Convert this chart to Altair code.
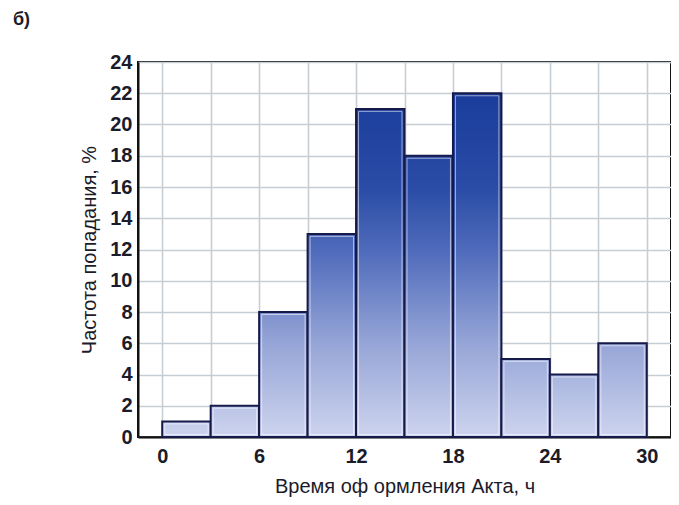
import altair as alt
import pandas as pd

bin_start = [0, 3, 6, 9, 12, 15, 18, 21, 24, 27]
bin_width = 3
freq = [1, 2, 8, 13, 21, 18, 22, 5, 4, 6]

x_ticks = [0, 3, 6, 9, 12, 15, 18, 21, 24, 27, 30]
y_ticks = [0, 2, 4, 6, 8, 10, 12, 14, 16, 18, 20, 22, 24]

df = pd.DataFrame({
    "start": bin_start,
    "end": [s + bin_width for s in bin_start],
    "value": freq,
})

# colour ramp by absolute level (value -> colour)
ramp = [
    (0.0, (205, 212, 238)),
    (6.0, (150, 165, 215)),
    (12.0, (78, 106, 186)),
    (16.0, (42, 76, 166)),
    (22.0, (26, 60, 155)),
]


def col_at(v):
    for (a, ca), (b, cb) in zip(ramp[:-1], ramp[1:]):
        if v <= b:
            t = (v - a) / (b - a) if b > a else 0
            c = [round(ca[i] + (cb[i] - ca[i]) * t) for i in range(3)]
            return "#%02x%02x%02x" % tuple(c)
    c = ramp[-1][1]
    return "#%02x%02x%02x" % c


def grad_for(v):
    levels = [v] + [lv for lv, _ in reversed(ramp) if 0 < lv < v] + [0.0]
    stops = [alt.GradientStop(offset=(v - lv) / v, color=col_at(lv)) for lv in levels]
    return alt.LinearGradient(gradient="linear", x1=0, y1=0, x2=0, y2=1, stops=stops)


x_enc = alt.X(
    "start:Q",
    scale=alt.Scale(domain=[-1.5, 31.5], nice=False, zero=False),
    axis=alt.Axis(
        values=x_ticks,
        labelExpr="datum.value % 6 == 0 ? datum.label : ''",
        title="Время оф ормления Акта, ч",
    ),
)
y_enc = alt.Y(
    "value:Q",
    scale=alt.Scale(domain=[0, 24], nice=False),
    axis=alt.Axis(values=y_ticks, title="Частота попадания, %"),
)

layers = []
for s, v in zip(bin_start, freq):
    layers.append(
        alt.Chart(df)
        .transform_filter(alt.datum.start == s)
        .mark_bar(fill=grad_for(v), stroke="#161a4a", strokeWidth=2)
        .encode(x=x_enc, x2="end:Q", y=y_enc, y2=alt.datum(0))
    )

highlight = (
    alt.Chart(df)
    .mark_bar(
        fill="transparent",
        stroke="#ffffff",
        strokeOpacity=0.55,
        strokeWidth=1,
        xOffset=2.5,
        x2Offset=-2.5,
        yOffset=2.5,
        y2Offset=-2.5,
    )
    .encode(x=x_enc, x2="end:Q", y=y_enc, y2=alt.datum(0))
)

chart = (
    alt.layer(*layers, highlight)
    .properties(
        width=533,
        height=375,
        padding={"left": 130, "top": 54, "right": 0, "bottom": 60},
        autosize=alt.AutoSizeParams(type="none"),
        title=alt.TitleParams(
            "б)",
            anchor="start",
            frame="group",
            dx=-125,
            offset=23,
            font="Liberation Sans",
            fontSize=18,
            fontWeight="bold",
            color="#1b1b2a",
        ),
    )
    .configure_view(stroke="#111111", strokeWidth=2)
    .configure_axis(
        labelFont="Liberation Sans",
        labelFontSize=20,
        labelFontWeight="bold",
        labelColor="#1b1b2a",
        titleFont="Liberation Sans",
        titleFontSize=20,
        titleFontWeight="normal",
        titleColor="#1b1b2a",
        domainColor="#111111",
        domainWidth=2,
        ticks=False,
        gridColor="#c6ced3",
        gridWidth=1.6,
        gridOpacity=1,
    )
    .configure_axisX(labelPadding=9, titlePadding=10)
    .configure_axisY(labelPadding=6, titlePadding=10)
)

chart.save("out.html", embed_options={"renderer": "svg", "actions": False})
